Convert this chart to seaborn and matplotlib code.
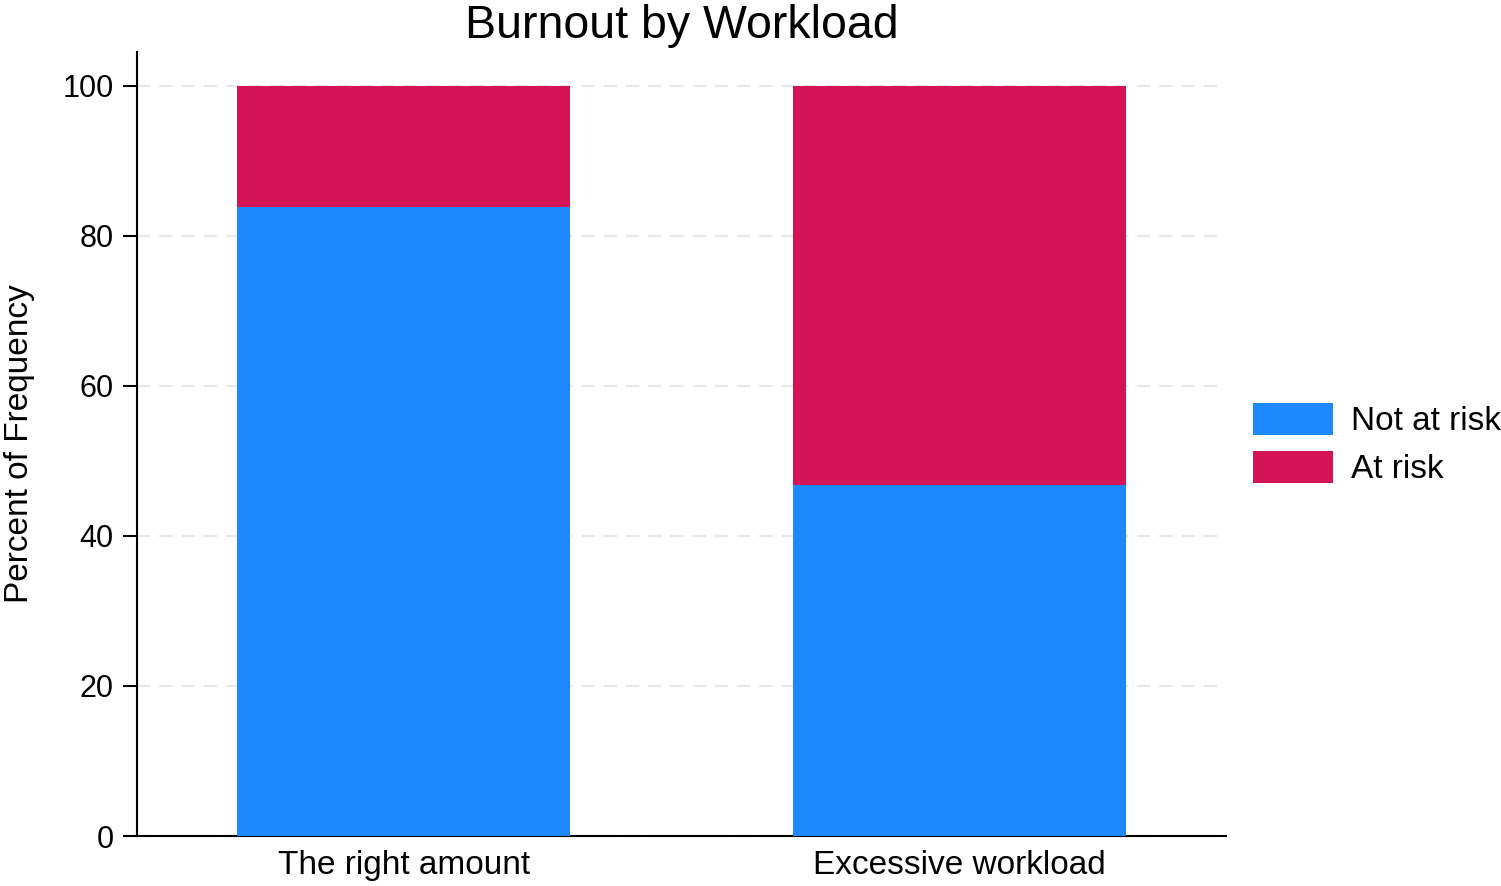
import seaborn as sns
import pandas as pd
import matplotlib
matplotlib.use('Agg')
import matplotlib.pyplot as plt
from matplotlib.patches import Patch

# Data
categories = ['The right amount', 'Excessive workload']
not_at_risk = [83.8, 46.8]
at_risk = [16.2, 53.2]
series_names = ['Not at risk', 'At risk']
y_ticks = [0, 20, 40, 60, 80, 100]

blue = '#1e88ff'
red = '#d51458'

df = pd.DataFrame({'category': categories,
                   'not_at_risk': not_at_risk,
                   'at_risk': at_risk})
df['total'] = df['not_at_risk'] + df['at_risk']

sns.set_style('white')
plt.rcParams['font.family'] = ['Liberation Sans', 'DejaVu Sans']
plt.rcParams['text.color'] = 'black'
plt.rcParams['axes.labelcolor'] = 'black'
plt.rcParams['xtick.color'] = 'black'
plt.rcParams['ytick.color'] = 'black'

fig = plt.figure(figsize=(15.01, 8.86), dpi=100)
ax = fig.add_axes([137 / 1501, 50 / 886, (1226 - 137) / 1501, (836 - 52) / 886])

# Stacked bars: full height in red, lower part in blue on top
sns.barplot(data=df, x='category', y='total', color=red, width=0.6,
            saturation=1, linewidth=0, edgecolor='none', ax=ax, zorder=2)
sns.barplot(data=df, x='category', y='not_at_risk', color=blue, width=0.6,
            saturation=1, linewidth=0, edgecolor='none', ax=ax, zorder=3)

ax.set_xlim(-0.48, 1.48)
ax.set_ylim(0, 104.5)
ax.set_yticks(y_ticks)
ax.yaxis.grid(True, color='#e8e8e8', linestyle=(0, (6, 4)), linewidth=1.6)
ax.set_axisbelow(True)

for side in ['top', 'right']:
    ax.spines[side].set_visible(False)
for side in ['left', 'bottom']:
    ax.spines[side].set_linewidth(1.5)
    ax.spines[side].set_color('black')

ax.tick_params(axis='y', length=10, width=1.5, pad=7, labelsize=22,
               left=True, color='black', labelcolor='black')
ax.tick_params(axis='x', length=0, pad=10, labelsize=24, labelcolor='black')

ax.set_xlabel('')
ax.set_ylabel('Percent of Frequency', fontsize=24, color='black')
ax.yaxis.set_label_coords(-0.0937, 0.5)
ax.set_title('Burnout by Workload', fontsize=33.5, pad=10, color='black')

handles = [Patch(facecolor=blue, edgecolor='none'),
           Patch(facecolor=red, edgecolor='none')]
fig.legend(handles, series_names, loc='center left',
           bbox_to_anchor=(1253 / 1501, 1 - 444 / 886), frameon=False,
           fontsize=24, handlelength=2.4, handleheight=1.1,
           handletextpad=0.55, labelspacing=0.4, borderpad=0,
           borderaxespad=0)

fig.savefig('out.png', dpi=100)
